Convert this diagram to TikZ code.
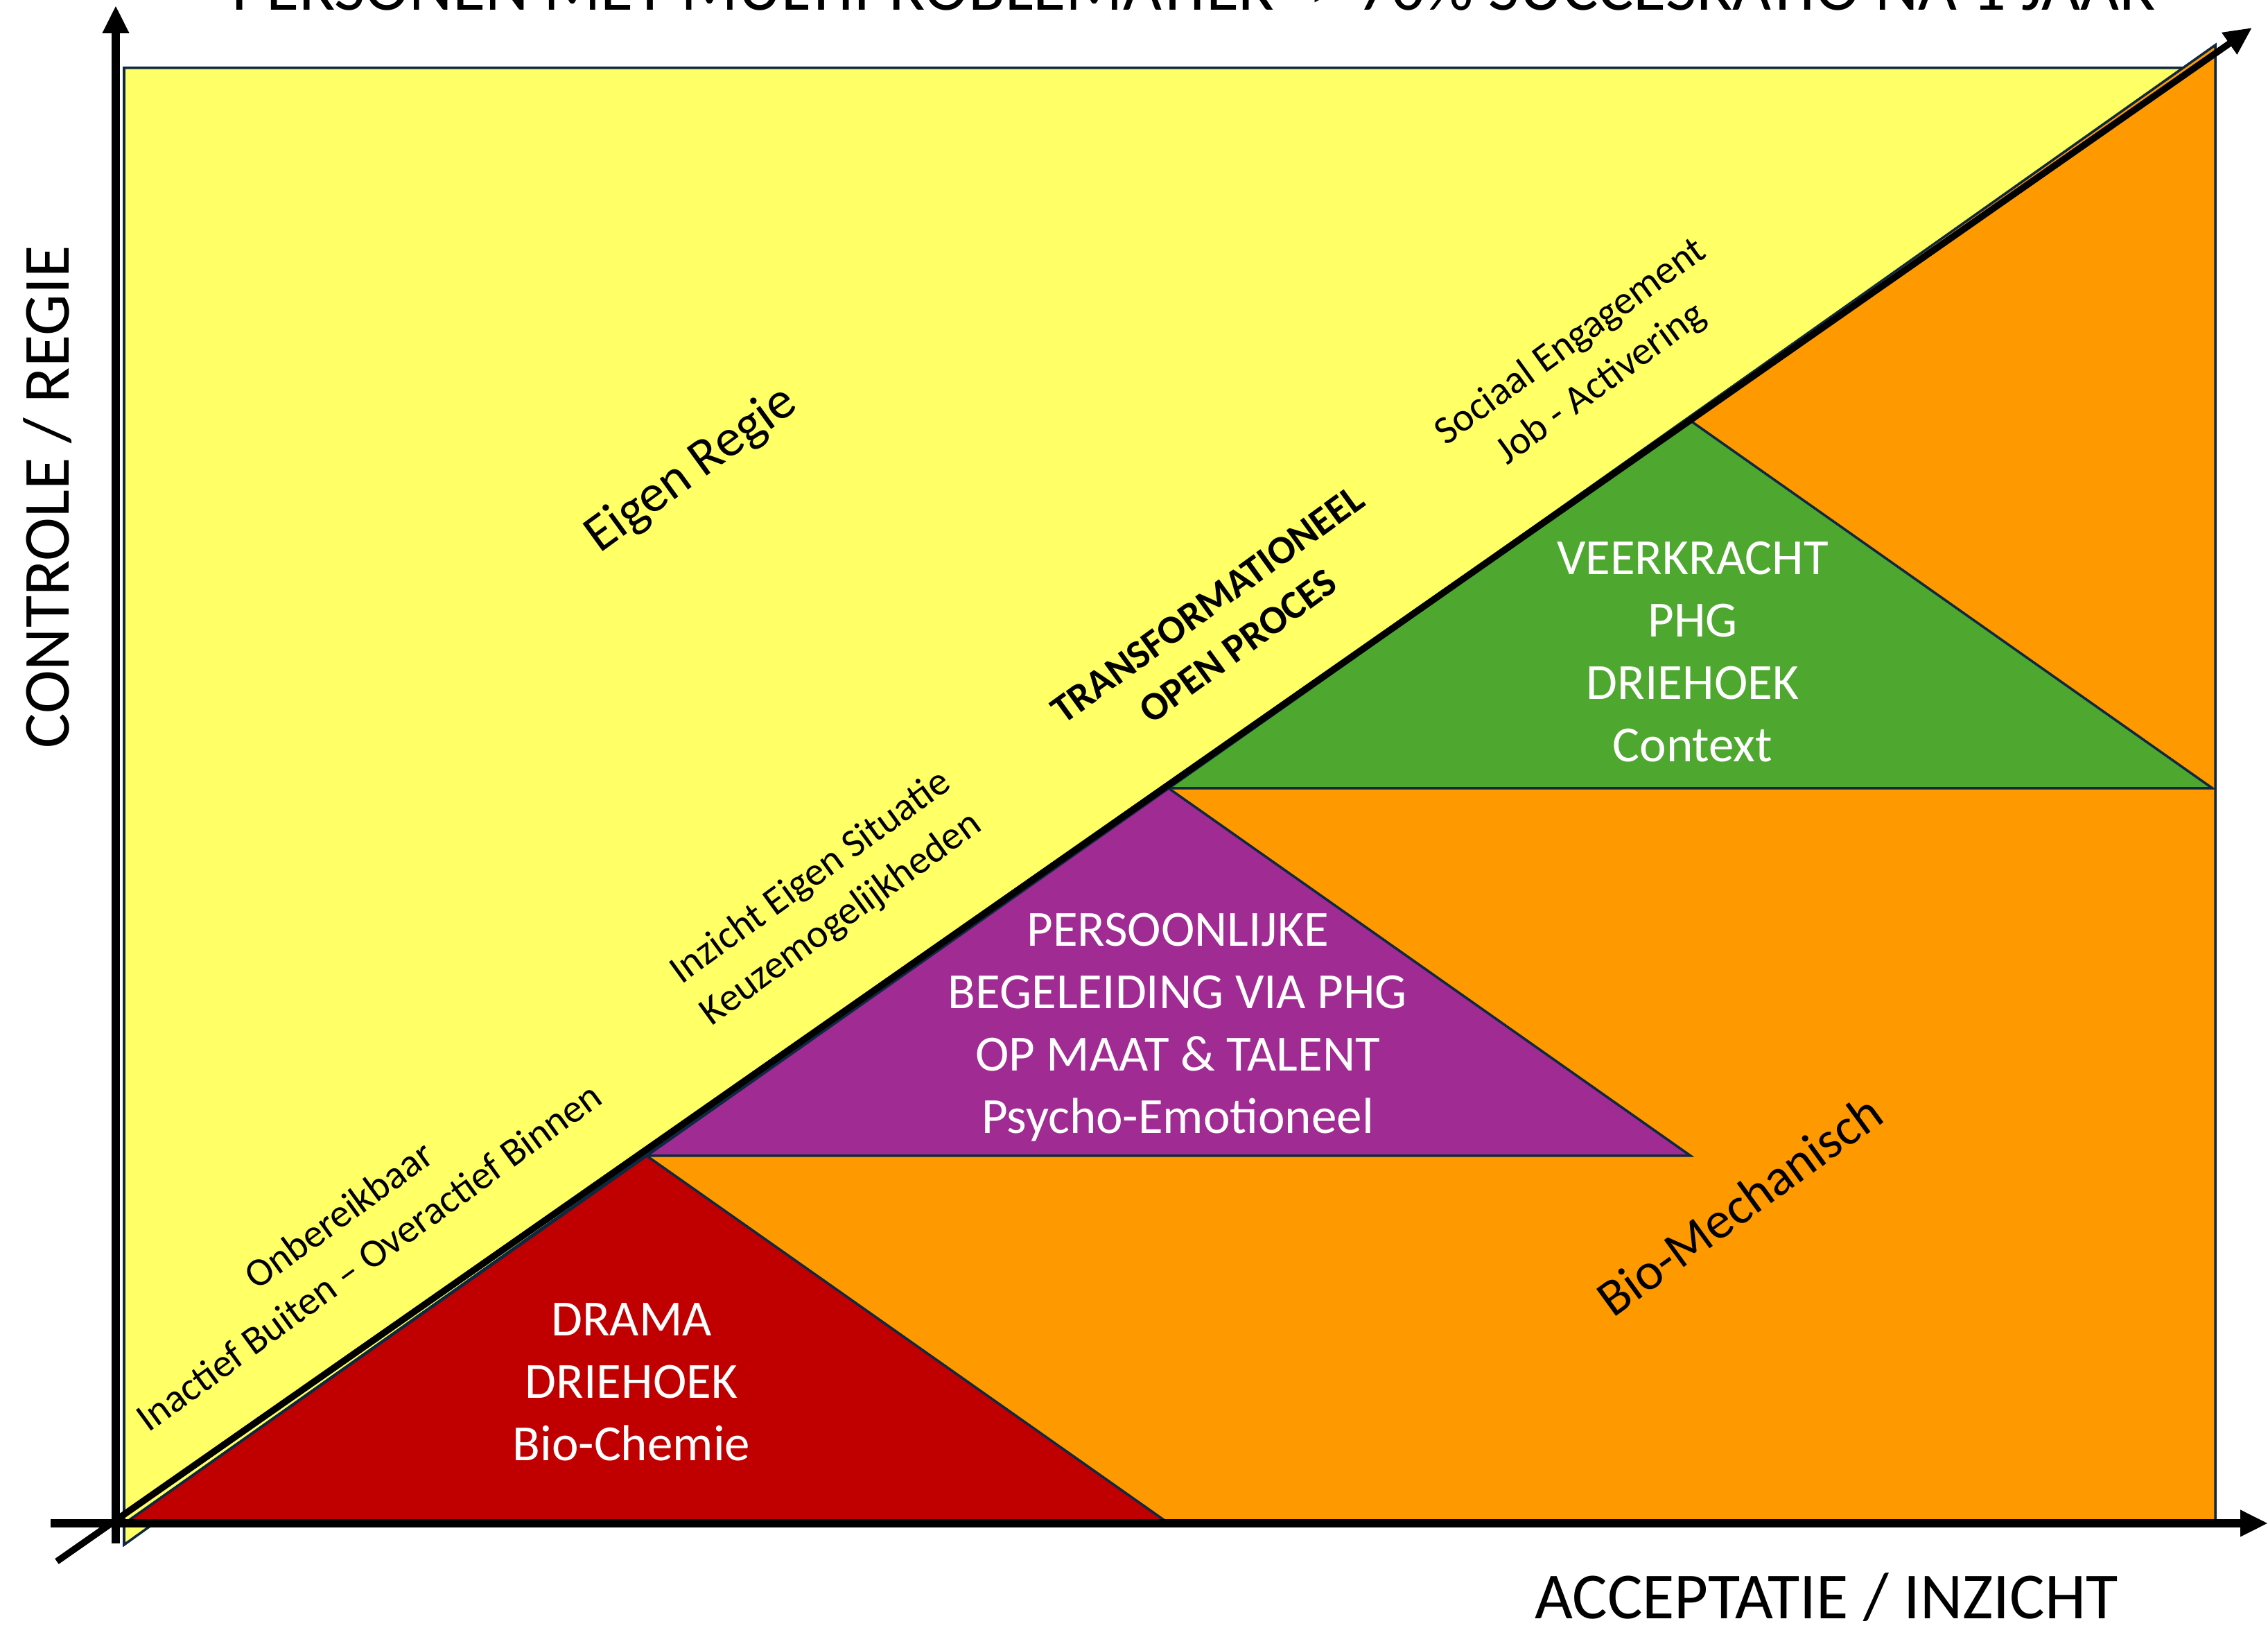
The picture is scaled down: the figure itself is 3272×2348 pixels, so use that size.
\documentclass[tikz,border=0pt]{standalone}
\usepackage{fontspec}
\setmainfont{Carlito}
\usepackage{tikz}
\usetikzlibrary{arrows.meta}

\definecolor{regieyellow}{HTML}{FFFF66}
\definecolor{mechorange}{HTML}{FF9900}
\definecolor{dramared}{HTML}{C00000}
\definecolor{phgpurple}{HTML}{A02B93}
\definecolor{veergreen}{HTML}{4EA72E}
\definecolor{edgeblue}{HTML}{0E2841}

\begin{document}
\begin{tikzpicture}[x=0.005cm, y=-0.005cm,
	area/.style={draw=edgeblue, line width=0.5pt},
	axis/.style={line width=1.6pt, -{Triangle[length=0.2cm, width=0.18cm]}},
	box/.style={text=white, align=center, font=\fontsize{10.4}{12.8}\selectfont},
	tag/.style={rotate=36, align=center, font=\fontsize{8.2}{10.6}\selectfont},
	axislabel/.style={anchor=base, font=\fontsize{13.5}{16}\selectfont}]
				\useasboundingbox (0,0) rectangle (3272,2348);
				\clip (0,0) rectangle (3272,2348);
				
				% Background areas
				\fill[regieyellow, area] (179,98) -- (3150,98) -- (179,2228) -- cycle;
				\fill[mechorange, area] (180,2197) -- (3196,65) -- (3196,2197) -- cycle;
				
				% Triangles along the diagonal
				\fill[dramared, area] (180,2197) -- (933,1667) -- (1686,2197) -- cycle;
				\fill[phgpurple, area] (933,1667) -- (1686,1137) -- (2439,1667) -- cycle;
				\fill[veergreen, area] (1686,1137) -- (2439,607) -- (3192,1137) -- cycle;
				
				% Axes
				\coordinate (ybottom) at (167,2226);
				\coordinate (ytop) at (167,8);
				\coordinate (xleft) at (73,2197);
				\coordinate (xright) at (3272,2197);
				\coordinate (dstart) at (82,2252);
				\coordinate (dend) at (3249,40);
				\draw[axis] (ybottom) -- (ytop);
				\draw[axis] (xleft) -- (xright);
				\draw[axis, line width=1.35pt] (dstart) -- (dend);
				
				% Axis labels and title
				\node[axislabel, font=\fontsize{13.75}{16}\selectfont] (title) at (1722,15) {PERSONEN MET MULTIPROBLEMATIEK -> 70\% SUCCESRATIO NA 1 JAAR};
				\node[axislabel, rotate=90] (yaxislabel) at (100,717) {CONTROLE / REGIE};
				\node[axislabel] (xaxislabel) at (2635,2335) {ACCEPTATIE / INZICHT};
				
				% Texts in the triangles
				\node[box] (drama) at (911,1993) {DRAMA\\DRIEHOEK\\Bio-Chemie};
				\node[box] (begeleiding) at (1699,1482) {PERSOONLIJKE\\BEGELEIDING VIA PHG\\OP MAAT \& TALENT\\Psycho-Emotioneel};
				\node[box] (veerkracht) at (2442,940) {VEERKRACHT\\PHG\\DRIEHOEK\\Context};
				
				% Texts along the diagonal
				\node[tag] (onbereikbaar) at (510,1782) {Onbereikbaar\\Inactief Buiten – Overactief Binnen};
				\node[tag] (inzicht) at (1192,1296) {Inzicht Eigen Situatie\\Keuzemogelijkheden};
				\node[tag, font=\bfseries\fontsize{8.2}{10.6}\selectfont] (transformatie) at (1764,902) {TRANSFORMATIONEEL\\OPEN PROCES};
				\node[tag] (engagement) at (2288,524) {Sociaal Engagement\\Job - Activering};
				
				% Area names
				\node[tag, font=\fontsize{10.9}{13}\selectfont] (eigenregie) at (998,678) {Eigen Regie};
				\node[tag, font=\fontsize{10.7}{13}\selectfont] (biomech) at (2509,1738) {Bio-Mechanisch};
				
			\end{tikzpicture}
\end{document}
